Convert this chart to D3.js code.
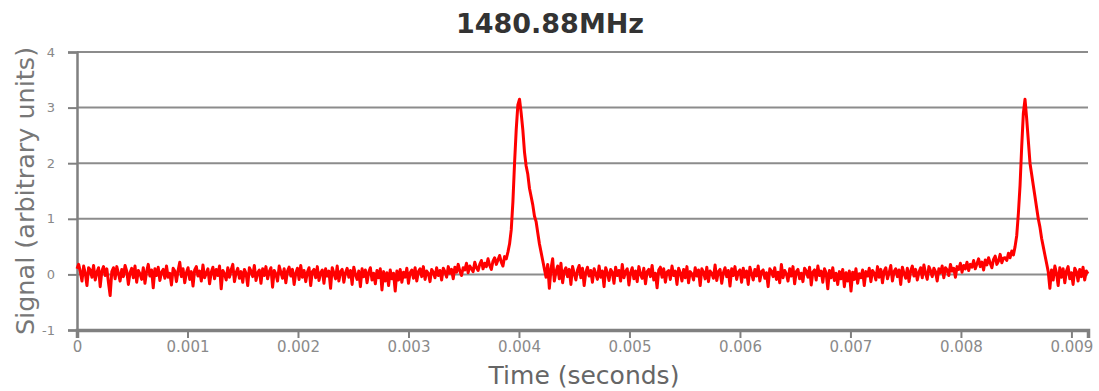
<!DOCTYPE html>
<html>
<head>
<meta charset="utf-8">
<script src="https://cdn.jsdelivr.net/npm/d3@7"></script>
<style>
  body { margin: 0; background: #fff; }
  svg { display: block; }
</style>
</head>
<body>
<svg></svg>
<script>
// sample spacing of the trace, in seconds
var dt = 0.000015;

// signal, one value per sample
var signal = [
  // 0 .. 0.0039 s
  0.10, 0.18, 0.05, -0.12, 0.15, 0.02, -0.20, 0.12, 0.08, -0.05, 0.16, -0.10, 0.04, 0.12, -0.22, 0.06, 0.14, -0.02, 0.10, -0.15,
  -0.38, 0.05, 0.12, -0.08, 0.14, 0.02, -0.12, 0.09, -0.04, 0.16, 0.06, -0.18, 0.03, 0.11, -0.06, 0.15, -0.14, 0.07, 0.01, -0.09,
  0.12, -0.16, 0.05, 0.18, -0.03, 0.08, -0.24, 0.10, -0.02, 0.13, -0.11, 0.04, 0.09, -0.07, 0.15, -0.05, 0.02, -0.19, 0.11, 0.06,
  -0.13, 0.07, 0.22, -0.04, 0.10, -0.15, 0.03, 0.12, -0.09, 0.05, -0.21, 0.08, 0.14, -0.03, 0.06, -0.12, 0.17, -0.06, 0.02, 0.10,
  -0.17, 0.04, 0.13, -0.08, 0.09, -0.02, 0.15, -0.26, 0.07, 0.01, -0.10, 0.12, -0.05, 0.08, 0.18, -0.13, 0.03, 0.11, -0.07, 0.05,
  -0.14, 0.09, 0.02, -0.20, 0.12, 0.06, -0.04, 0.16, -0.11, 0.03, 0.08, -0.16, 0.10, -0.02, 0.14, -0.08, 0.05, 0.12, -0.23, 0.07,
  0.01, -0.12, 0.15, 0.04, -0.07, 0.10, -0.15, 0.06, 0.13, -0.03, 0.09, -0.18, 0.02, 0.11, -0.09, 0.16, -0.05, 0.07, -0.13, 0.04,
  0.12, -0.20, 0.05, 0.09, -0.06, 0.14, -0.11, 0.03, 0.08, -0.16, 0.10, -0.03, 0.06, -0.25, 0.12, 0.02, -0.08, 0.15, -0.12, 0.05,
  0.09, -0.14, 0.03, 0.11, -0.05, 0.07, -0.18, 0.13, 0.00, -0.09, 0.06, -0.22, 0.10, -0.04, 0.08, -0.15, 0.04, 0.12, -0.10, 0.02,
  -0.17, 0.07, -0.06, 0.10, -0.28, 0.05, -0.12, 0.03, -0.20, 0.08, -0.08, 0.02, -0.30, 0.06, -0.10, 0.09, -0.14, 0.04, -0.05, 0.11,
  -0.16, 0.03, 0.08, -0.07, 0.12, -0.12, 0.05, 0.10, -0.04, 0.14, -0.09, 0.06, 0.02, -0.13, 0.09, 0.04, -0.06, 0.12, -0.02, 0.07,
  -0.10, 0.11, 0.05, -0.05, 0.14, 0.02, 0.09, -0.08, 0.13, 0.04, 0.18, 0.06, -0.02, 0.12, 0.08, 0.20, 0.03, 0.15, 0.10, 0.05,
  0.22, 0.12, 0.07, 0.18, 0.25, 0.10, 0.20, 0.14, 0.28, 0.16, 0.09, 0.24, 0.30, 0.18, 0.26, 0.34, 0.22, 0.15, 0.32, 0.28,
  // first pulse
  0.40, 0.55, 0.80, 1.30, 2.00, 2.60, 3.05, 3.15, 2.90, 2.60, 2.20, 1.95, 1.80, 1.55, 1.40, 1.25, 1.05, 0.95, 0.75, 0.55,
  0.40, 0.25, 0.10,
  -0.05, 0.18, -0.25, 0.10, 0.28, -0.12, 0.05, 0.15, -0.08, 0.20, -0.15, 0.06, 0.12, -0.04, 0.09, -0.18, 0.14, 0.02,
  -0.10, 0.08, 0.16, -0.06, 0.11, -0.20, 0.04, 0.13, -0.03, 0.07, -0.14, 0.10, 0.01, -0.09, 0.15, -0.05, 0.06, -0.22, 0.12, 0.03,
  -0.11, 0.09, 0.04, -0.16, 0.13, -0.02, 0.07, -0.12, 0.18, -0.06, 0.05, 0.10, -0.19, 0.03, 0.12, -0.08, 0.06, -0.13, 0.14, 0.00,
  -0.07, 0.11, -0.17, 0.05, 0.09, -0.04, 0.16, -0.10, 0.02, -0.24, 0.08, 0.13, -0.05, 0.10, -0.14, 0.04, 0.07, -0.09, 0.15, -0.02,
  0.06, -0.18, 0.11, 0.03, -0.12, 0.09, -0.06, 0.14, -0.15, 0.05, 0.01, -0.10, 0.12, -0.03, 0.08, -0.20, 0.10, 0.04, -0.08, 0.13,
  -0.13, 0.06, 0.02, -0.07, 0.17, -0.11, 0.05, 0.09, -0.16, 0.03, 0.12, -0.04, 0.07, -0.21, 0.10, -0.02, 0.14, -0.09, 0.04, 0.08,
  -0.14, 0.11, -0.05, 0.06, -0.18, 0.13, 0.02, -0.10, 0.09, -0.03, 0.15, -0.12, 0.05, 0.08, -0.07, 0.03, -0.22, 0.10, 0.06, -0.04,
  0.12, -0.09, 0.04, -0.15, 0.18, -0.06, 0.07, 0.01, -0.12, 0.10, -0.03, 0.14, -0.17, 0.05, 0.09, -0.08, 0.02, -0.13, 0.11, 0.06,
  -0.05, 0.13, -0.19, 0.04, 0.08, -0.10, 0.15, -0.02, 0.06, -0.14, 0.10, 0.03, -0.26, 0.07, -0.06, 0.12, -0.11, 0.02, -0.18, 0.05,
  -0.08, 0.09, -0.22, 0.03, -0.12, 0.06, -0.30, 0.04, -0.09, 0.10, -0.16, 0.01, -0.06, 0.08, -0.20, 0.05, -0.03, 0.11, -0.13, 0.07,
  0.02, -0.10, 0.14, -0.05, 0.09, -0.15, 0.06, 0.12, -0.08, 0.03, 0.16, -0.12, 0.05, 0.10, -0.04, 0.08, -0.18, 0.13, 0.02, -0.07,
  0.11, -0.13, 0.06, 0.15, -0.03, 0.09, -0.10, 0.04, 0.12, -0.06, 0.17, 0.02, -0.09, 0.14, 0.07, -0.04, 0.11, 0.05, -0.12, 0.10,
  0.03, 0.15, -0.06, 0.12, 0.08, -0.02, 0.18, 0.06, 0.11, -0.05, 0.14, 0.09, 0.20, 0.04, 0.16, 0.10, 0.22, 0.07, 0.18, 0.13,
  0.25, 0.10, 0.19, 0.28, 0.14, 0.22, 0.08, 0.26, 0.17, 0.30, 0.20, 0.12, 0.27, 0.33, 0.18, 0.24, 0.36, 0.21, 0.29,
  // second pulse
  0.30, 0.25, 0.38, 0.30, 0.42, 0.35, 0.50, 0.70, 1.10, 1.60, 2.30, 2.90, 3.15, 2.80, 2.40, 2.00, 1.80, 1.60, 1.40, 1.20,
  1.00, 0.85, 0.65, 0.50, 0.35, 0.20, 0.05,
  -0.25, 0.08, -0.10, 0.15, 0.02, -0.20, 0.12, -0.05, 0.10, -0.15, 0.06, 0.14, -0.08, 0.03, -0.18, 0.11, 0.05, -0.12, 0.09, -0.04,
  0.13, -0.10, 0.06, 0.01
];

var x_ticks = [0, 0.001, 0.002, 0.003, 0.004, 0.005, 0.006, 0.007, 0.008, 0.009];
var y_ticks = [-1, 0, 1, 2, 3, 4];
var x_domain = [0, 0.00915];
var y_domain = [-1, 4];

var title_text = "1480.88MHz";
var x_label = "Time (seconds)";
var y_label = "Signal (arbitrary units)";

var width = 1099, height = 391;
var margin = { left: 77, right: 11, top: 52, bottom: 61 };
var plot_w = width - margin.left - margin.right;
var plot_h = height - margin.top - margin.bottom;

var font = "DejaVu Sans, Verdana, sans-serif";

var svg = d3.select("svg")
            .attr("width", width)
            .attr("height", height);

var x = d3.scaleLinear().domain(x_domain).range([0, plot_w]);
var y = d3.scaleLinear().domain(y_domain).range([plot_h, 0]);

var g = svg.append("g")
           .attr("transform", "translate(" + margin.left + "," + margin.top + ")");

// horizontal grid lines
g.selectAll("line.grid")
 .data(y_ticks.filter(function(d) { return d > -1; }))
 .enter()
 .append("line")
 .attr("class", "grid")
 .attr("x1", 0)
 .attr("x2", plot_w)
 .attr("y1", function(d) { return y(d); })
 .attr("y2", function(d) { return y(d); })
 .attr("stroke", "#8c8c8c")
 .attr("stroke-width", 2);

// y axis
var y_axis = g.append("g")
              .call(d3.axisLeft(y).tickValues(y_ticks).tickFormat(function(d) { return String(d); }).tickSize(9));
y_axis.select(".domain").attr("stroke", "#808080").attr("stroke-width", 2.5);
y_axis.selectAll(".tick line").attr("stroke", "#808080").attr("stroke-width", 2);
y_axis.selectAll(".tick text")
      .attr("fill", "#888")
      .attr("font-size", 13)
      .attr("font-family", font)
      .attr("x", -22);

// x axis
var x_axis = g.append("g")
              .attr("transform", "translate(0," + plot_h + ")")
              .call(d3.axisBottom(x).tickValues(x_ticks).tickFormat(function(d) { return d === 0 ? "0" : d3.format(".3f")(d); }).tickSize(8));
x_axis.select(".domain").attr("stroke", "#808080").attr("stroke-width", 3.5);
x_axis.selectAll(".tick line").attr("stroke", "#808080").attr("stroke-width", 2);
x_axis.selectAll(".tick text")
      .attr("fill", "#8a8a8a")
      .attr("font-size", 15)
      .attr("font-family", font)
      .attr("y", 11);

// the trace
var line = d3.line()
             .x(function(d, i) { return x(i * dt); })
             .y(function(d) { return y(d); });

g.append("path")
 .datum(signal)
 .attr("d", line)
 .attr("fill", "none")
 .attr("stroke", "#ff0000")
 .attr("stroke-width", 3)
 .attr("stroke-linejoin", "round");

// texts
svg.append("text")
   .attr("x", 550)
   .attr("y", 33)
   .attr("text-anchor", "middle")
   .attr("font-family", font)
   .attr("font-weight", "bold")
   .attr("font-size", 27)
   .attr("fill", "#333")
   .text(title_text);

svg.append("text")
   .attr("x", 584)
   .attr("y", 384)
   .attr("text-anchor", "middle")
   .attr("font-family", font)
   .attr("font-size", 25)
   .attr("fill", "#666")
   .text(x_label);

svg.append("text")
   .attr("transform", "translate(34," + 191 + ") rotate(-90)")
   .attr("text-anchor", "middle")
   .attr("font-family", font)
   .attr("font-size", 25.5)
   .attr("fill", "#777")
   .text(y_label);
</script>
</body>
</html>
